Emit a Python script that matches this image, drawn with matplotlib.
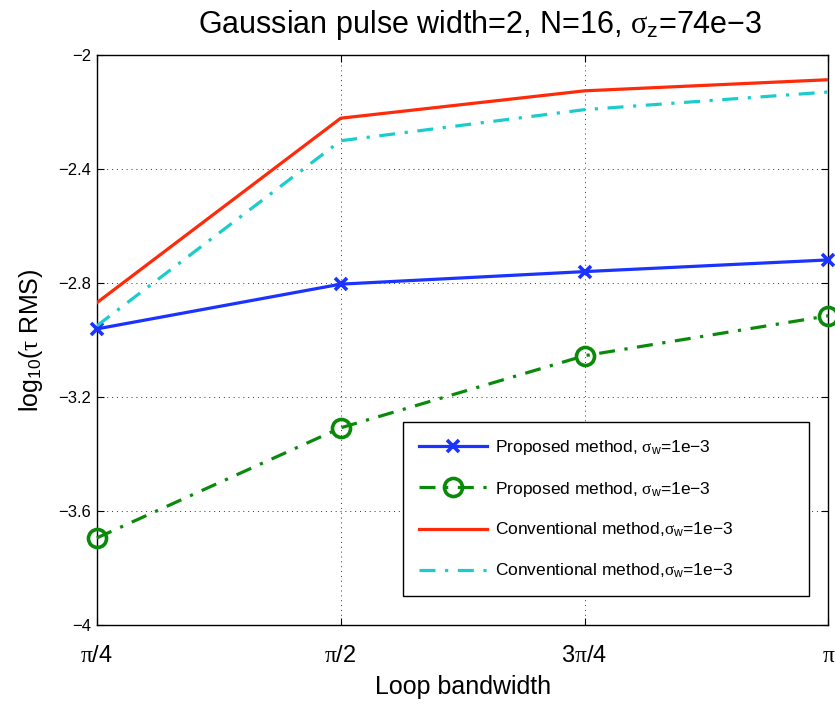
import numpy as np
import matplotlib.pyplot as plt

plt.rcParams['font.family'] = ['Liberation Sans', 'DejaVu Sans']
plt.rcParams['mathtext.fontset'] = 'custom'
plt.rcParams['mathtext.rm'] = 'Liberation Sans'
plt.rcParams['mathtext.it'] = 'Liberation Serif'
plt.rcParams['mathtext.bf'] = 'Liberation Sans:bold'

# ---- data ----
x_ticks = [np.pi / 4, np.pi / 2, 3 * np.pi / 4, np.pi]
x_labels = [r'$\pi$/4', r'$\pi$/2', r'3$\pi$/4', r'$\pi$']

proposed_a = [-2.961, -2.804, -2.760, -2.719]
proposed_b = [-3.694, -3.308, -3.055, -2.915]
conventional_a = [-2.869, -2.222, -2.126, -2.087]
conventional_b = [-2.950, -2.301, -2.192, -2.130]

labels = [
    r'Proposed method, $\sigma_{\mathrm{w}}$=1e−3',
    r'Proposed method, $\sigma_{\mathrm{w}}$=1e−3',
    r'Conventional method,$\sigma_{\mathrm{w}}$=1e−3',
    r'Conventional method,$\sigma_{\mathrm{w}}$=1e−3',
]

fig = plt.figure(figsize=(8.35, 7.04), dpi=100)
ax = fig.add_axes([0.116, 0.112, 0.876, 0.810])

ax.plot(x_ticks, proposed_a, '-', color='#1a33ff', lw=2.3, marker='x',
        ms=8, mew=2.6, label=labels[0], clip_on=False, zorder=3)
ax.plot(x_ticks, proposed_b, color='#0a8a0a', lw=2.3, dashes=(5, 3, 1, 3),
        marker='o', ms=13, mew=2.6, mfc='none', label=labels[1],
        clip_on=False, zorder=3)
ax.plot(x_ticks, conventional_a, '-', color='#ff2a0a', lw=2.3,
        label=labels[2], zorder=3)
ax.plot(x_ticks, conventional_b, color='#1ccccc', lw=2.3, dashes=(5, 3, 1, 3),
        label=labels[3], zorder=3)

ax.set_xlim(np.pi / 4, np.pi)
ax.set_ylim(-4, -2)
ax.set_xticks(x_ticks)
ax.set_xticklabels(x_labels)
ax.set_yticks([-4, -3.6, -3.2, -2.8, -2.4, -2])
ax.set_yticklabels(['−4', '−3.6', '−3.2', '−2.8', '−2.4', '−2'])
ax.tick_params(direction='in', top=True, right=True, length=5, width=0.8)
ax.tick_params(axis='x', labelsize=17, pad=14)
ax.tick_params(axis='y', labelsize=12, pad=4)
ax.grid(True, color='k', linestyle=(0, (1, 4)), lw=0.7, alpha=0.8)
for s in ax.spines.values():
    s.set_linewidth(1.0)

ax.set_title(r'Gaussian pulse width=2, N=16, $\sigma_{\mathrm{z}}$=74e−3',
             fontsize=22, pad=16, x=0.524)
ax.set_xlabel('Loop bandwidth', fontsize=18, labelpad=6)
ax.set_ylabel(r'log$_{10}$($\tau$ RMS)', fontsize=18, labelpad=10)

leg = ax.legend(loc='lower left', bbox_to_anchor=(0.419, 0.051, 0.554, 0.30),
                mode='expand', fontsize=12.5,
                frameon=True, fancybox=False, edgecolor='k', framealpha=1,
                handlelength=3.9, labelspacing=1.3, borderpad=0.9,
                handletextpad=0.5, borderaxespad=0)
leg.get_frame().set_linewidth(1.0)

plt.savefig('out.png', dpi=100)
